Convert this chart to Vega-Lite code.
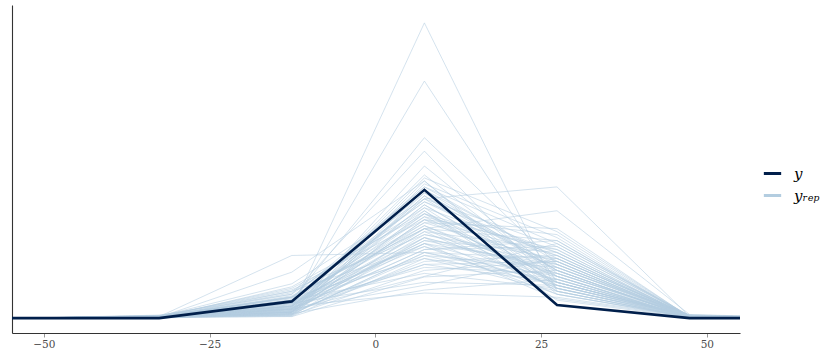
{
"$schema":"https://vega.github.io/schema/vega-lite/v6.json",
"width":728,"height":328,
"autosize":{"type":"none"},
"padding":{"left":12,"top":5,"right":95,"bottom":27},
"background":"white",
"config":{"view":{"stroke":null},"font":"DejaVu Serif"},
"datasets":{
"obs":[{"x":-72.6,"v":0},{"x":-52.6,"v":0},{"x":-32.6,"v":0},{"x":-12.6,"v":5.6},{"x":7.4,"v":43},{"x":27.4,"v":4.4},{"x":47.4,"v":0},{"x":67.4,"v":0}],
"rep":[
{"s":1,"x":-52.6,"v":0},{"s":1,"x":-32.6,"v":0.2},{"s":1,"x":-12.6,"v":3},{"s":1,"x":7.4,"v":99},{"s":1,"x":27.4,"v":9},{"s":1,"x":47.4,"v":0.3},{"s":1,"x":67.4,"v":0},
{"s":2,"x":-52.6,"v":0},{"s":2,"x":-32.6,"v":0.5},{"s":2,"x":-12.6,"v":4},{"s":2,"x":7.4,"v":79.5},{"s":2,"x":27.4,"v":12},{"s":2,"x":47.4,"v":0.5},{"s":2,"x":67.4,"v":0},
{"s":3,"x":-52.6,"v":0},{"s":3,"x":-32.6,"v":0.3},{"s":3,"x":-12.6,"v":6},{"s":3,"x":7.4,"v":60.5},{"s":3,"x":27.4,"v":18},{"s":3,"x":47.4,"v":0.8},{"s":3,"x":67.4,"v":0},
{"s":4,"x":-52.6,"v":0},{"s":4,"x":-32.6,"v":1.0},{"s":4,"x":-12.6,"v":8},{"s":4,"x":7.4,"v":56},{"s":4,"x":27.4,"v":10},{"s":4,"x":47.4,"v":0.2},{"s":4,"x":67.4,"v":0},
{"s":5,"x":-52.6,"v":0},{"s":5,"x":-32.6,"v":0.1},{"s":5,"x":-12.6,"v":2},{"s":5,"x":7.4,"v":51},{"s":5,"x":27.4,"v":15},{"s":5,"x":47.4,"v":0.6},{"s":5,"x":67.4,"v":0},
{"s":6,"x":-52.6,"v":0},{"s":6,"x":-32.6,"v":0.5},{"s":6,"x":-12.6,"v":21},{"s":6,"x":7.4,"v":22},{"s":6,"x":27.4,"v":12},{"s":6,"x":47.4,"v":0.4},{"s":6,"x":67.4,"v":0},
{"s":7,"x":-52.6,"v":0},{"s":7,"x":-32.6,"v":0.3},{"s":7,"x":-12.6,"v":15.4},{"s":7,"x":7.4,"v":46},{"s":7,"x":27.4,"v":8},{"s":7,"x":47.4,"v":0.5},{"s":7,"x":67.4,"v":0},
{"s":8,"x":-52.6,"v":0},{"s":8,"x":-32.6,"v":0.6},{"s":8,"x":-12.6,"v":11.5},{"s":8,"x":7.4,"v":40},{"s":8,"x":27.4,"v":14},{"s":8,"x":47.4,"v":0.2},{"s":8,"x":67.4,"v":0},
{"s":9,"x":-52.6,"v":0},{"s":9,"x":-32.6,"v":0.2},{"s":9,"x":-12.6,"v":10.5},{"s":9,"x":7.4,"v":35},{"s":9,"x":27.4,"v":22},{"s":9,"x":47.4,"v":0.7},{"s":9,"x":67.4,"v":0},
{"s":10,"x":-52.6,"v":0},{"s":10,"x":-32.6,"v":0.4},{"s":10,"x":-12.6,"v":4},{"s":10,"x":7.4,"v":40},{"s":10,"x":27.4,"v":44},{"s":10,"x":47.4,"v":0.5},{"s":10,"x":67.4,"v":0},
{"s":11,"x":-52.6,"v":0},{"s":11,"x":-32.6,"v":0.2},{"s":11,"x":-12.6,"v":5},{"s":11,"x":7.4,"v":30},{"s":11,"x":27.4,"v":36},{"s":11,"x":47.4,"v":1.2},{"s":11,"x":67.4,"v":0},
{"s":12,"x":-52.6,"v":0},{"s":12,"x":-32.6,"v":0.8},{"s":12,"x":-12.6,"v":3},{"s":12,"x":7.4,"v":47},{"s":12,"x":27.4,"v":29},{"s":12,"x":47.4,"v":0.4},{"s":12,"x":67.4,"v":0},
{"s":13,"x":-52.6,"v":0},{"s":13,"x":-32.6,"v":0.1},{"s":13,"x":-12.6,"v":2},{"s":13,"x":7.4,"v":45},{"s":13,"x":27.4,"v":27},{"s":13,"x":47.4,"v":0.3},{"s":13,"x":67.4,"v":0},
{"s":14,"x":-52.6,"v":0},{"s":14,"x":-32.6,"v":0.3},{"s":14,"x":-12.6,"v":7},{"s":14,"x":7.4,"v":44},{"s":14,"x":27.4,"v":25},{"s":14,"x":47.4,"v":0.9},{"s":14,"x":67.4,"v":0},
{"s":15,"x":-52.6,"v":0},{"s":15,"x":-32.6,"v":0.2},{"s":15,"x":-12.6,"v":1.5},{"s":15,"x":7.4,"v":43},{"s":15,"x":27.4,"v":20},{"s":15,"x":47.4,"v":0.6},{"s":15,"x":67.4,"v":0},
{"s":16,"x":-52.6,"v":0},{"s":16,"x":-32.6,"v":0.6},{"s":16,"x":-12.6,"v":6},{"s":16,"x":7.4,"v":42},{"s":16,"x":27.4,"v":16},{"s":16,"x":47.4,"v":0.2},{"s":16,"x":67.4,"v":0},
{"s":17,"x":-52.6,"v":0},{"s":17,"x":-32.6,"v":0},{"s":17,"x":-12.6,"v":3},{"s":17,"x":7.4,"v":41},{"s":17,"x":27.4,"v":11},{"s":17,"x":47.4,"v":0.5},{"s":17,"x":67.4,"v":0},
{"s":18,"x":-52.6,"v":0},{"s":18,"x":-32.6,"v":0.4},{"s":18,"x":-12.6,"v":2.5},{"s":18,"x":7.4,"v":40},{"s":18,"x":27.4,"v":24},{"s":18,"x":47.4,"v":0.8},{"s":18,"x":67.4,"v":0},
{"s":19,"x":-52.6,"v":0},{"s":19,"x":-32.6,"v":0.2},{"s":19,"x":-12.6,"v":8},{"s":19,"x":7.4,"v":39},{"s":19,"x":27.4,"v":18},{"s":19,"x":47.4,"v":0.3},{"s":19,"x":67.4,"v":0},
{"s":20,"x":-52.6,"v":0},{"s":20,"x":-32.6,"v":0.3},{"s":20,"x":-12.6,"v":4},{"s":20,"x":7.4,"v":38},{"s":20,"x":27.4,"v":13},{"s":20,"x":47.4,"v":0.4},{"s":20,"x":67.4,"v":0},
{"s":21,"x":-52.6,"v":0},{"s":21,"x":-32.6,"v":0.7},{"s":21,"x":-12.6,"v":9},{"s":21,"x":7.4,"v":37},{"s":21,"x":27.4,"v":21},{"s":21,"x":47.4,"v":0.6},{"s":21,"x":67.4,"v":0},
{"s":22,"x":-52.6,"v":0},{"s":22,"x":-32.6,"v":0.1},{"s":22,"x":-12.6,"v":1},{"s":22,"x":7.4,"v":36},{"s":22,"x":27.4,"v":9},{"s":22,"x":47.4,"v":0.2},{"s":22,"x":67.4,"v":0},
{"s":23,"x":-52.6,"v":0},{"s":23,"x":-32.6,"v":0.5},{"s":23,"x":-12.6,"v":5},{"s":23,"x":7.4,"v":35},{"s":23,"x":27.4,"v":17},{"s":23,"x":47.4,"v":1.0},{"s":23,"x":67.4,"v":0},
{"s":24,"x":-52.6,"v":0},{"s":24,"x":-32.6,"v":0.2},{"s":24,"x":-12.6,"v":3.5},{"s":24,"x":7.4,"v":34},{"s":24,"x":27.4,"v":23},{"s":24,"x":47.4,"v":0.4},{"s":24,"x":67.4,"v":0},
{"s":25,"x":-52.6,"v":0},{"s":25,"x":-32.6,"v":0.3},{"s":25,"x":-12.6,"v":2},{"s":25,"x":7.4,"v":33},{"s":25,"x":27.4,"v":14},{"s":25,"x":47.4,"v":0.3},{"s":25,"x":67.4,"v":0},
{"s":26,"x":-52.6,"v":0},{"s":26,"x":-32.6,"v":0.9},{"s":26,"x":-12.6,"v":6.5},{"s":26,"x":7.4,"v":32},{"s":26,"x":27.4,"v":19},{"s":26,"x":47.4,"v":0.5},{"s":26,"x":67.4,"v":0},
{"s":27,"x":-52.6,"v":0},{"s":27,"x":-32.6,"v":0.1},{"s":27,"x":-12.6,"v":4.5},{"s":27,"x":7.4,"v":31},{"s":27,"x":27.4,"v":12},{"s":27,"x":47.4,"v":0.7},{"s":27,"x":67.4,"v":0},
{"s":28,"x":-52.6,"v":0},{"s":28,"x":-32.6,"v":0.4},{"s":28,"x":-12.6,"v":1.5},{"s":28,"x":7.4,"v":30},{"s":28,"x":27.4,"v":26},{"s":28,"x":47.4,"v":0.2},{"s":28,"x":67.4,"v":0},
{"s":29,"x":-52.6,"v":0},{"s":29,"x":-32.6,"v":0.2},{"s":29,"x":-12.6,"v":7.5},{"s":29,"x":7.4,"v":30},{"s":29,"x":27.4,"v":15},{"s":29,"x":47.4,"v":0.6},{"s":29,"x":67.4,"v":0},
{"s":30,"x":-52.6,"v":0},{"s":30,"x":-32.6,"v":0.6},{"s":30,"x":-12.6,"v":3},{"s":30,"x":7.4,"v":29},{"s":30,"x":27.4,"v":10},{"s":30,"x":47.4,"v":0.3},{"s":30,"x":67.4,"v":0},
{"s":31,"x":-52.6,"v":0},{"s":31,"x":-32.6,"v":0.3},{"s":31,"x":-12.6,"v":2},{"s":31,"x":7.4,"v":28},{"s":31,"x":27.4,"v":20},{"s":31,"x":47.4,"v":0.9},{"s":31,"x":67.4,"v":0},
{"s":32,"x":-52.6,"v":0},{"s":32,"x":-32.6,"v":0.1},{"s":32,"x":-12.6,"v":5.5},{"s":32,"x":7.4,"v":27},{"s":32,"x":27.4,"v":16},{"s":32,"x":47.4,"v":0.4},{"s":32,"x":67.4,"v":0},
{"s":33,"x":-52.6,"v":0},{"s":33,"x":-32.6,"v":0.5},{"s":33,"x":-12.6,"v":0.8},{"s":33,"x":7.4,"v":27},{"s":33,"x":27.4,"v":8},{"s":33,"x":47.4,"v":0.2},{"s":33,"x":67.4,"v":0},
{"s":34,"x":-52.6,"v":0},{"s":34,"x":-32.6,"v":0.2},{"s":34,"x":-12.6,"v":4},{"s":34,"x":7.4,"v":26},{"s":34,"x":27.4,"v":22},{"s":34,"x":47.4,"v":0.5},{"s":34,"x":67.4,"v":0},
{"s":35,"x":-52.6,"v":0},{"s":35,"x":-32.6,"v":0.8},{"s":35,"x":-12.6,"v":6},{"s":35,"x":7.4,"v":25},{"s":35,"x":27.4,"v":13},{"s":35,"x":47.4,"v":0.3},{"s":35,"x":67.4,"v":0},
{"s":36,"x":-52.6,"v":0},{"s":36,"x":-32.6,"v":0.3},{"s":36,"x":-12.6,"v":2.5},{"s":36,"x":7.4,"v":25},{"s":36,"x":27.4,"v":18},{"s":36,"x":47.4,"v":0.7},{"s":36,"x":67.4,"v":0},
{"s":37,"x":-52.6,"v":0},{"s":37,"x":-32.6,"v":0.1},{"s":37,"x":-12.6,"v":9},{"s":37,"x":7.4,"v":24},{"s":37,"x":27.4,"v":11},{"s":37,"x":47.4,"v":0.4},{"s":37,"x":67.4,"v":0},
{"s":38,"x":-52.6,"v":0},{"s":38,"x":-32.6,"v":0.4},{"s":38,"x":-12.6,"v":3},{"s":38,"x":7.4,"v":23},{"s":38,"x":27.4,"v":24},{"s":38,"x":47.4,"v":0.6},{"s":38,"x":67.4,"v":0},
{"s":39,"x":-52.6,"v":0},{"s":39,"x":-32.6,"v":0.2},{"s":39,"x":-12.6,"v":1.2},{"s":39,"x":7.4,"v":22},{"s":39,"x":27.4,"v":14},{"s":39,"x":47.4,"v":0.2},{"s":39,"x":67.4,"v":0},
{"s":40,"x":-52.6,"v":0},{"s":40,"x":-32.6,"v":0.6},{"s":40,"x":-12.6,"v":5},{"s":40,"x":7.4,"v":21},{"s":40,"x":27.4,"v":17},{"s":40,"x":47.4,"v":0.8},{"s":40,"x":67.4,"v":0},
{"s":41,"x":-52.6,"v":0},{"s":41,"x":-32.6,"v":0.3},{"s":41,"x":-12.6,"v":7},{"s":41,"x":7.4,"v":20},{"s":41,"x":27.4,"v":9},{"s":41,"x":47.4,"v":0.3},{"s":41,"x":67.4,"v":0},
{"s":42,"x":-52.6,"v":0},{"s":42,"x":-32.6,"v":0.1},{"s":42,"x":-12.6,"v":2},{"s":42,"x":7.4,"v":19},{"s":42,"x":27.4,"v":21},{"s":42,"x":47.4,"v":0.5},{"s":42,"x":67.4,"v":0},
{"s":43,"x":-52.6,"v":0},{"s":43,"x":-32.6,"v":0.5},{"s":43,"x":-12.6,"v":3.5},{"s":43,"x":7.4,"v":18},{"s":43,"x":27.4,"v":12},{"s":43,"x":47.4,"v":0.4},{"s":43,"x":67.4,"v":0},
{"s":44,"x":-52.6,"v":0},{"s":44,"x":-32.6,"v":0.2},{"s":44,"x":-12.6,"v":4.5},{"s":44,"x":7.4,"v":17},{"s":44,"x":27.4,"v":15},{"s":44,"x":47.4,"v":1.1},{"s":44,"x":67.4,"v":0},
{"s":45,"x":-52.6,"v":0},{"s":45,"x":-32.6,"v":0.7},{"s":45,"x":-12.6,"v":1},{"s":45,"x":7.4,"v":16},{"s":45,"x":27.4,"v":19},{"s":45,"x":47.4,"v":0.3},{"s":45,"x":67.4,"v":0},
{"s":46,"x":-52.6,"v":0},{"s":46,"x":-32.6,"v":0.3},{"s":46,"x":-12.6,"v":6},{"s":46,"x":7.4,"v":15},{"s":46,"x":27.4,"v":10},{"s":46,"x":47.4,"v":0.5},{"s":46,"x":67.4,"v":0},
{"s":47,"x":-52.6,"v":0},{"s":47,"x":-32.6,"v":0.1},{"s":47,"x":-12.6,"v":2.8},{"s":47,"x":7.4,"v":14},{"s":47,"x":27.4,"v":25},{"s":47,"x":47.4,"v":0.6},{"s":47,"x":67.4,"v":0},
{"s":48,"x":-52.6,"v":0},{"s":48,"x":-32.6,"v":0.4},{"s":48,"x":-12.6,"v":0.5},{"s":48,"x":7.4,"v":13.8},{"s":48,"x":27.4,"v":16},{"s":48,"x":47.4,"v":0.2},{"s":48,"x":67.4,"v":0},
{"s":49,"x":-52.6,"v":0},{"s":49,"x":-32.6,"v":0.2},{"s":49,"x":-12.6,"v":5},{"s":49,"x":7.4,"v":12},{"s":49,"x":27.4,"v":11},{"s":49,"x":47.4,"v":0.4},{"s":49,"x":67.4,"v":0},
{"s":50,"x":-52.6,"v":0},{"s":50,"x":-32.6,"v":0.5},{"s":50,"x":-12.6,"v":3},{"s":50,"x":7.4,"v":11},{"s":50,"x":27.4,"v":20},{"s":50,"x":47.4,"v":0.7},{"s":50,"x":67.4,"v":0},
{"s":51,"x":-52.6,"v":0},{"s":51,"x":-32.6,"v":0.3},{"s":51,"x":-12.6,"v":1.5},{"s":51,"x":7.4,"v":9.4},{"s":51,"x":27.4,"v":13},{"s":51,"x":47.4,"v":0.3},{"s":51,"x":67.4,"v":0},
{"s":52,"x":-52.6,"v":0},{"s":52,"x":-32.6,"v":0.1},{"s":52,"x":-12.6,"v":4},{"s":52,"x":7.4,"v":8.4},{"s":52,"x":27.4,"v":7},{"s":52,"x":47.4,"v":0.5},{"s":52,"x":67.4,"v":0},
{"s":53,"x":-52.6,"v":0},{"s":53,"x":-32.6,"v":0.6},{"s":53,"x":-12.6,"v":2},{"s":53,"x":7.4,"v":33},{"s":53,"x":27.4,"v":28},{"s":53,"x":47.4,"v":0.4},{"s":53,"x":67.4,"v":0},
{"s":54,"x":-52.6,"v":0},{"s":54,"x":-32.6,"v":0.2},{"s":54,"x":-12.6,"v":8.5},{"s":54,"x":7.4,"v":36},{"s":54,"x":27.4,"v":6},{"s":54,"x":47.4,"v":0.2},{"s":54,"x":67.4,"v":0},
{"s":55,"x":-52.6,"v":0},{"s":55,"x":-32.6,"v":0.4},{"s":55,"x":-12.6,"v":3},{"s":55,"x":7.4,"v":38},{"s":55,"x":27.4,"v":12},{"s":55,"x":47.4,"v":0.6},{"s":55,"x":67.4,"v":0},
{"s":56,"x":-52.6,"v":0},{"s":56,"x":-32.6,"v":0.3},{"s":56,"x":-12.6,"v":1.8},{"s":56,"x":7.4,"v":41},{"s":56,"x":27.4,"v":16},{"s":56,"x":47.4,"v":0.3},{"s":56,"x":67.4,"v":0},
{"s":57,"x":-52.6,"v":0},{"s":57,"x":-32.6,"v":0.1},{"s":57,"x":-12.6,"v":6},{"s":57,"x":7.4,"v":44},{"s":57,"x":27.4,"v":19},{"s":57,"x":47.4,"v":0.5},{"s":57,"x":67.4,"v":0},
{"s":58,"x":-52.6,"v":0},{"s":58,"x":-32.6,"v":0.5},{"s":58,"x":-12.6,"v":2.2},{"s":58,"x":7.4,"v":46},{"s":58,"x":27.4,"v":10},{"s":58,"x":47.4,"v":0.8},{"s":58,"x":67.4,"v":0},
{"s":59,"x":-52.6,"v":0},{"s":59,"x":-32.6,"v":0.2},{"s":59,"x":-12.6,"v":4},{"s":59,"x":7.4,"v":29},{"s":59,"x":27.4,"v":23},{"s":59,"x":47.4,"v":0.4},{"s":59,"x":67.4,"v":0},
{"s":60,"x":-52.6,"v":0},{"s":60,"x":-32.6,"v":0.8},{"s":60,"x":-12.6,"v":7},{"s":60,"x":7.4,"v":31},{"s":60,"x":27.4,"v":14},{"s":60,"x":47.4,"v":0.2},{"s":60,"x":67.4,"v":0},
{"s":61,"x":-52.6,"v":0},{"s":61,"x":-32.6,"v":0.3},{"s":61,"x":-12.6,"v":3.2},{"s":61,"x":7.4,"v":26},{"s":61,"x":27.4,"v":17},{"s":61,"x":47.4,"v":0.6},{"s":61,"x":67.4,"v":0},
{"s":62,"x":-52.6,"v":0},{"s":62,"x":-32.6,"v":0.1},{"s":62,"x":-12.6,"v":5.2},{"s":62,"x":7.4,"v":24},{"s":62,"x":27.4,"v":8},{"s":62,"x":47.4,"v":0.3},{"s":62,"x":67.4,"v":0},
{"s":63,"x":-52.6,"v":0},{"s":63,"x":-32.6,"v":0.4},{"s":63,"x":-12.6,"v":1.3},{"s":63,"x":7.4,"v":22},{"s":63,"x":27.4,"v":20},{"s":63,"x":47.4,"v":0.5},{"s":63,"x":67.4,"v":0},
{"s":64,"x":-52.6,"v":0},{"s":64,"x":-32.6,"v":0.2},{"s":64,"x":-12.6,"v":2.6},{"s":64,"x":7.4,"v":35},{"s":64,"x":27.4,"v":11},{"s":64,"x":47.4,"v":0.9},{"s":64,"x":67.4,"v":0},
{"s":65,"x":-52.6,"v":0},{"s":65,"x":-32.6,"v":0.6},{"s":65,"x":-12.6,"v":9.5},{"s":65,"x":7.4,"v":28},{"s":65,"x":27.4,"v":18},{"s":65,"x":47.4,"v":0.4},{"s":65,"x":67.4,"v":0},
{"s":66,"x":-52.6,"v":0},{"s":66,"x":-32.6,"v":0.3},{"s":66,"x":-12.6,"v":4.2},{"s":66,"x":7.4,"v":32},{"s":66,"x":27.4,"v":30},{"s":66,"x":47.4,"v":0.3},{"s":66,"x":67.4,"v":0},
{"s":67,"x":-52.6,"v":0},{"s":67,"x":-32.6,"v":0.1},{"s":67,"x":-12.6,"v":0.6},{"s":67,"x":7.4,"v":20},{"s":67,"x":27.4,"v":13},{"s":67,"x":47.4,"v":0.6},{"s":67,"x":67.4,"v":0},
{"s":68,"x":-52.6,"v":0},{"s":68,"x":-32.6,"v":0.5},{"s":68,"x":-12.6,"v":3.8},{"s":68,"x":7.4,"v":37},{"s":68,"x":27.4,"v":9},{"s":68,"x":47.4,"v":0.2},{"s":68,"x":67.4,"v":0},
{"s":69,"x":-52.6,"v":0},{"s":69,"x":-32.6,"v":0.2},{"s":69,"x":-12.6,"v":6.8},{"s":69,"x":7.4,"v":39},{"s":69,"x":27.4,"v":22},{"s":69,"x":47.4,"v":0.5},{"s":69,"x":67.4,"v":0},
{"s":70,"x":-52.6,"v":0},{"s":70,"x":-32.6,"v":0.4},{"s":70,"x":-12.6,"v":2.4},{"s":70,"x":7.4,"v":27},{"s":70,"x":27.4,"v":15},{"s":70,"x":47.4,"v":0.7},{"s":70,"x":67.4,"v":0},
{"s":71,"x":-52.6,"v":0},{"s":71,"x":-32.6,"v":0.3},{"s":71,"x":-12.6,"v":5.8},{"s":71,"x":7.4,"v":34},{"s":71,"x":27.4,"v":12},{"s":71,"x":47.4,"v":0.4},{"s":71,"x":67.4,"v":0},
{"s":72,"x":-52.6,"v":0},{"s":72,"x":-32.6,"v":0.1},{"s":72,"x":-12.6,"v":1.1},{"s":72,"x":7.4,"v":42},{"s":72,"x":27.4,"v":17},{"s":72,"x":47.4,"v":0.3},{"s":72,"x":67.4,"v":0},
{"s":73,"x":-52.6,"v":0},{"s":73,"x":-32.6,"v":0.7},{"s":73,"x":-12.6,"v":3.3},{"s":73,"x":7.4,"v":23},{"s":73,"x":27.4,"v":26},{"s":73,"x":47.4,"v":0.6},{"s":73,"x":67.4,"v":0},
{"s":74,"x":-52.6,"v":0},{"s":74,"x":-32.6,"v":0.2},{"s":74,"x":-12.6,"v":7.2},{"s":74,"x":7.4,"v":30},{"s":74,"x":27.4,"v":10},{"s":74,"x":47.4,"v":0.2},{"s":74,"x":67.4,"v":0},
{"s":75,"x":-52.6,"v":0},{"s":75,"x":-32.6,"v":0.4},{"s":75,"x":-12.6,"v":2.1},{"s":75,"x":7.4,"v":18},{"s":75,"x":27.4,"v":19},{"s":75,"x":47.4,"v":0.5},{"s":75,"x":67.4,"v":0},
{"s":76,"x":-52.6,"v":0},{"s":76,"x":-32.6,"v":0.3},{"s":76,"x":-12.6,"v":4.8},{"s":76,"x":7.4,"v":25},{"s":76,"x":27.4,"v":6.5},{"s":76,"x":47.4,"v":0.4},{"s":76,"x":67.4,"v":0},
{"s":77,"x":-52.6,"v":0},{"s":77,"x":-32.6,"v":0.1},{"s":77,"x":-12.6,"v":3.6},{"s":77,"x":7.4,"v":48},{"s":77,"x":27.4,"v":14},{"s":77,"x":47.4,"v":0.8},{"s":77,"x":67.4,"v":0},
{"s":78,"x":-52.6,"v":0},{"s":78,"x":-32.6,"v":0.5},{"s":78,"x":-12.6,"v":10},{"s":78,"x":7.4,"v":33},{"s":78,"x":27.4,"v":21},{"s":78,"x":47.4,"v":0.3},{"s":78,"x":67.4,"v":0},
{"s":79,"x":-52.6,"v":0},{"s":79,"x":-32.6,"v":0.2},{"s":79,"x":-12.6,"v":1.6},{"s":79,"x":7.4,"v":21},{"s":79,"x":27.4,"v":11},{"s":79,"x":47.4,"v":0.5},{"s":79,"x":67.4,"v":0},
{"s":80,"x":-52.6,"v":0},{"s":80,"x":-32.6,"v":0.6},{"s":80,"x":-12.6,"v":5.4},{"s":80,"x":7.4,"v":43},{"s":80,"x":27.4,"v":16},{"s":80,"x":47.4,"v":0.4},{"s":80,"x":67.4,"v":0}
]},
"layer":[
{"data":{"name":"rep"},
 "mark":{"type":"line","clip":true,"strokeWidth":0.8,"opacity":0.7},
 "encoding":{
  "x":{"field":"x","type":"quantitative","scale":{"domain":[-54.8,55],"nice":false,"zero":false},
       "axis":{"values":[-50,-25,0,25,50],"title":null,"grid":false,"labelFont":"DejaVu Serif","labelFontSize":10.5,"labelColor":"#4d4d4d","tickColor":"#999999","tickSize":4,"domainColor":"#333333","domainWidth":1.1,"labelPadding":2}},
  "y":{"field":"v","type":"quantitative","scale":{"domain":[-5,105],"nice":false,"zero":false},
       "axis":{"labels":false,"ticks":false,"grid":false,"title":null,"domainColor":"#333333","domainWidth":1.1}},
  "detail":{"field":"s","type":"nominal"},
  "color":{"datum":"yrep","type":"nominal","scale":{"domain":["y","yrep"],"range":["#011f4b","#b3cde0"]},
   "legend":{"title":null,"orient":"none","legendX":750,"legendY":158,"symbolType":"stroke","symbolSize":300,"symbolStrokeWidth":3,"symbolOpacity":1,"labelFont":"DejaVu Serif","labelFontSize":15,"labelFontStyle":"italic","labelColor":"#000000","labelOffset":11,"rowPadding":3,"labelExpr":"datum.label == 'yrep' ? 'yᵣₑₚ' : datum.label"}}
 }},
{"data":{"name":"obs"},
 "mark":{"type":"line","clip":true,"strokeWidth":2.6},
 "encoding":{
  "x":{"field":"x","type":"quantitative"},
  "y":{"field":"v","type":"quantitative"},
  "color":{"datum":"y","type":"nominal"}
 }}
]
}
